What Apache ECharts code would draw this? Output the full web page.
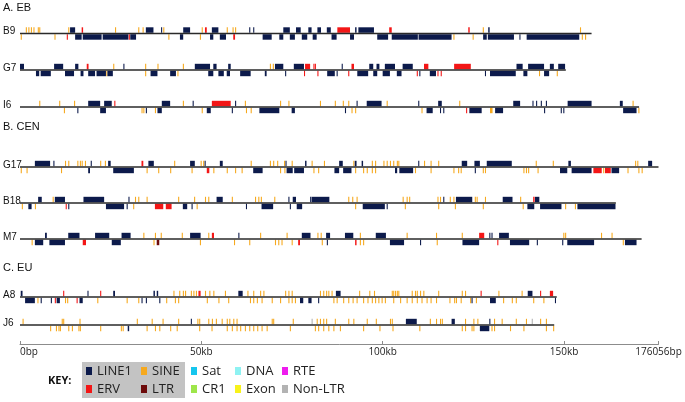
<!DOCTYPE html>
<html><head><meta charset="utf-8">
<script src="https://cdn.jsdelivr.net/npm/echarts@6/dist/echarts.min.js"></script>
<style>html,body{margin:0;padding:0;background:#fff}#c{width:685px;height:402px}</style>
</head><body><div id="c"></div>
<script>
// ---------- DATA (positions in kb; strand 1 = above line, -1 = below) ----------
const trackNames = ['B9','G7','I6','G17','B18','M7','A8','J6'];
const trackLengthsKb = [157.6,150.5,170.7,176.056,164.3,171.4,148.0,147.3];
const sectionNames = ['A. EB','B. CEN','C. EU'];
const tickValuesKb = [0,50,100,150,176.056];
const tickLabels = ['0bp','50kb','100kb','150kb','176056bp'];
const repeatTypes = ['LINE1','SINE','ERV','LTR','Sat','CR1','DNA','Exon','RTE','Non-LTR'];
const typeCodes = {L:'LINE1',S:'SINE',E:'ERV',T:'LTR',N:'Non-LTR'};

const B9 = [[1.6,1.9,1,'S'],[2.3,2.6,1,'S'],[3.0,3.3,1,'S'],[3.7,4.0,1,'S'],[4.9,5.2,1,'S'],[5.3,5.6,1,'S'],
[13.3,13.6,1,'S'],[13.8,15.2,1,'L'],[17.0,17.4,1,'E'],[26.2,26.5,1,'S'],[32.6,32.9,1,'S'],[33.8,34.1,1,'S'],[34.7,36.8,1,'L'],[38.9,39.2,1,'L'],[39.5,39.8,1,'S'],[45.0,46.9,1,'L'],[50.1,50.4,1,'S'],[51.0,51.5,1,'E'],[52.9,54.7,1,'L'],[57.0,57.3,1,'S'],[58.6,58.9,1,'S'],[59.3,59.6,1,'S'],[63.2,63.5,1,'L'],[64.3,64.6,1,'L'],[72.6,74.4,1,'L'],[76.1,77.4,1,'L'],[79.5,80.4,1,'L'],[82.0,83.0,1,'L'],[84.6,85.7,1,'L'],[87.5,91.0,1,'E'],[92.4,92.8,1,'L'],[93.3,97.6,1,'L'],[101.8,102.5,1,'E'],[123.6,124.0,1,'E'],[127.6,127.9,1,'S'],[129.1,129.5,1,'L'],[154.4,154.7,1,'S'],
[0.2,0.5,-1,'S'],[9.5,9.8,-1,'S'],[12.9,13.2,-1,'E'],[15.2,17.0,-1,'L'],[17.3,22.5,-1,'L'],[22.8,29.9,-1,'L'],[30.0,30.3,-1,'E'],[30.4,32.0,-1,'L'],[40.9,41.2,-1,'S'],[44.1,45.0,-1,'L'],[49.6,49.9,-1,'S'],[52.4,53.3,-1,'L'],[55.1,56.8,-1,'L'],[58.8,59.3,-1,'E'],[66.9,69.4,-1,'L'],[71.5,72.6,-1,'L'],[74.4,75.8,-1,'L'],[77.7,79.2,-1,'L'],[80.7,81.8,-1,'L'],[85.9,87.3,-1,'L'],[91.0,92.1,-1,'L'],[98.5,101.5,-1,'L'],[102.5,109.7,-1,'L'],[109.9,119.0,-1,'L'],[119.5,119.8,-1,'S'],[124.8,125.1,-1,'S'],[127.7,128.7,-1,'L'],[129.0,136.2,-1,'L'],[137.7,138.0,-1,'L'],[139.7,154.2,-1,'L'],[154.9,155.2,-1,'S'],[155.8,156.1,-1,'S']];

const G7 = [[0,1.1,1,'L'],[9.4,11.9,1,'L'],[15.2,16.1,1,'L'],[18.4,18.9,1,'E'],[25.7,26.0,1,'S'],[28.5,28.8,1,'L'],[34.5,34.8,1,'S'],[37.9,38.2,1,'S'],[44.9,45.2,1,'S'],[48.2,52.4,1,'L'],[53.3,54.2,1,'L'],[57.4,58.1,1,'L'],[68.9,69.2,1,'S'],[69.7,70.0,1,'S'],[70.3,72.6,1,'L'],[75.5,78.3,1,'L'],[78.6,80.0,1,'E'],[80.9,81.2,1,'E'],[81.3,81.6,1,'E'],[88.7,89.0,1,'L'],[91.4,92.1,1,'E'],[96.3,97.4,1,'L'],[98.3,99.1,1,'L'],[100.6,103.4,1,'L'],[105.5,108.3,1,'L'],[111.4,112.6,1,'E'],[119.7,124.3,1,'E'],[136.9,138.6,1,'L'],[140.1,144.5,1,'L'],[146.1,147.2,1,'L'],[148.4,150.3,1,'L'],
[4.4,5.3,-1,'L'],[5.7,8.5,-1,'L'],[12.4,14.9,-1,'L'],[16.7,17.5,-1,'L'],[18.8,20.7,-1,'L'],[21.1,23.7,-1,'L'],[23.8,24.0,-1,'S'],[24.1,25.6,-1,'L'],[34.5,34.8,-1,'S'],[36.0,37.9,-1,'L'],[41.4,43.0,-1,'L'],[43.4,43.7,-1,'S'],[51.9,53.3,-1,'L'],[54.7,56.2,-1,'L'],[57.0,57.9,-1,'L'],[60.7,63.6,-1,'L'],[67.5,68.0,-1,'L'],[73.1,73.4,-1,'L'],[78.3,78.6,-1,'E'],[82.0,82.3,-1,'E'],[84.7,86.8,-1,'L'],[87.3,87.6,-1,'L'],[90.5,90.8,-1,'E'],[93.0,96.0,-1,'L'],[97.4,98.5,-1,'L'],[100.0,102.0,-1,'L'],[103.9,105.2,-1,'L'],[109.4,109.7,-1,'E'],[110.1,110.4,-1,'L'],[113.0,114.7,-1,'L'],[115.1,115.4,-1,'E'],[116.0,116.3,-1,'E'],[128.2,128.5,-1,'L'],[129.6,136.7,-1,'L'],[138.8,139.9,-1,'L'],[143.1,143.4,-1,'S'],[144.5,145.9,-1,'L'],[148.0,148.3,-1,'S']];

const I6 = [[5.3,5.6,1,'S'],[10.8,11.1,1,'S'],[14.9,15.2,1,'S'],[18.8,22.1,1,'L'],[23.2,25.3,1,'L'],[26.0,26.3,1,'E'],[39.1,41.4,1,'L'],[44.9,45.2,1,'S'],[47.6,47.9,1,'L'],[52.9,58.1,1,'E'],[59.3,59.6,1,'L'],[62.0,62.3,1,'S'],[71.7,72.0,1,'S'],[74.0,74.3,1,'S'],[82.7,83.0,1,'S'],[86.8,87.1,1,'S'],[89.0,89.3,1,'S'],[90.5,90.8,1,'S'],[92.8,93.1,1,'L'],[95.6,99.7,1,'L'],[101.1,101.4,1,'S'],[109.8,110.1,1,'L'],[115.3,116.3,1,'L'],[121.1,121.4,1,'S'],[136.0,137.9,1,'L'],[141.3,141.6,1,'L'],[142.3,142.6,1,'L'],[143.6,143.9,1,'L'],[145.0,145.3,1,'L'],[151.0,157.6,1,'L'],[165.4,166.2,1,'L'],[168.9,169.2,1,'S'],
[12.1,12.4,-1,'S'],[15.8,16.1,-1,'L'],[22.1,23.7,-1,'L'],[33.5,33.8,-1,'S'],[34.0,34.3,-1,'S'],[34.7,35.0,-1,'L'],[37.2,37.5,-1,'S'],[37.9,39.1,-1,'L'],[50.1,50.4,-1,'S'],[51.5,52.6,-1,'L'],[58.4,58.7,-1,'L'],[62.3,62.6,-1,'S'],[63.6,63.9,-1,'S'],[66.0,71.5,-1,'L'],[74.9,75.8,-1,'L'],[89.6,89.9,-1,'L'],[91.4,91.7,-1,'S'],[92.4,92.7,-1,'S'],[110.7,111.0,-1,'S'],[112.1,113.8,-1,'L'],[115.8,116.1,-1,'L'],[116.7,117.0,-1,'L'],[123.0,123.3,-1,'E'],[123.9,127.3,-1,'L'],[129.6,130.3,-1,'S'],[131.0,133.2,-1,'L'],[144.5,144.8,-1,'L'],[149.1,149.4,-1,'L'],[149.8,150.1,-1,'L'],[166.3,170.0,-1,'L'],[170.5,170.8,-1,'S']];

const G17 = [[4.1,8.3,1,'L'],[9.2,9.5,1,'L'],[12.4,12.7,1,'S'],[13.3,13.6,1,'S'],[15.8,16.1,1,'S'],[16.5,16.8,1,'S'],[17.0,17.3,1,'S'],[17.9,18.2,1,'S'],[19.5,19.8,1,'L'],[22.1,22.4,1,'S'],[23.4,23.7,1,'S'],[24.3,25.0,1,'L'],[33.5,34.0,1,'E'],[35.4,36.9,1,'L'],[42.5,42.8,1,'S'],[46.9,48.2,1,'L'],[49.8,50.1,1,'S'],[50.5,50.8,1,'S'],[50.9,51.2,1,'L'],[55.1,55.9,1,'L'],[63.6,63.9,1,'S'],[68.9,69.2,1,'S'],[69.8,70.1,1,'S'],[70.9,71.2,1,'S'],[72.8,73.1,1,'S'],[73.2,73.5,1,'L'],[74.9,75.2,1,'S'],[78.6,79.0,1,'L'],[80.4,80.7,1,'S'],[83.8,84.1,1,'S'],[88.0,89.0,1,'L'],[91.9,92.2,1,'S'],[92.3,92.8,1,'L'],[94.2,94.6,1,'L'],[97.0,97.3,1,'S'],[97.9,98.2,1,'S'],[100.2,100.5,1,'S'],[101.1,101.4,1,'S'],[102.0,102.3,1,'S'],[102.9,103.2,1,'S'],[103.9,104.2,1,'S'],[104.3,104.6,1,'S'],[109.8,110.1,1,'L'],[111.4,111.7,1,'S'],[113.2,113.5,1,'S'],[115.3,115.6,1,'S'],[121.8,123.3,1,'L'],[125.3,126.8,1,'L'],[128.7,135.6,1,'L'],[142.2,142.5,1,'S'],[146.9,147.2,1,'S'],[151.2,151.9,1,'L'],[169.6,169.9,1,'S'],[170.2,170.5,1,'S'],[173.2,174.3,1,'L'],
[0.2,0.5,-1,'S'],[1.8,2.1,-1,'S'],[11.3,11.6,-1,'S'],[18.8,19.3,-1,'L'],[25.7,31.4,-1,'L'],[34.9,35.2,-1,'S'],[38.1,38.4,-1,'S'],[41.4,41.7,-1,'S'],[47.3,47.6,-1,'S'],[51.5,52.2,-1,'E'],[53.3,53.6,-1,'S'],[57.0,57.3,-1,'S'],[59.3,59.6,-1,'S'],[61.1,61.4,-1,'S'],[64.3,66.9,-1,'L'],[71.7,72.0,-1,'S'],[72.9,73.2,-1,'S'],[73.5,75.2,-1,'L'],[75.6,78.3,-1,'L'],[80.9,81.2,-1,'S'],[82.2,82.5,-1,'S'],[86.7,88.0,-1,'L'],[89.1,91.4,-1,'L'],[92.4,92.7,-1,'S'],[94.6,94.9,-1,'S'],[95.6,95.9,-1,'S'],[97.0,97.3,-1,'S'],[97.9,98.2,-1,'S'],[103.4,104.0,-1,'L'],[104.6,108.4,-1,'L'],[108.9,109.2,-1,'S'],[113.2,113.5,-1,'S'],[119.5,119.8,-1,'S'],[120.8,121.1,-1,'S'],[121.5,121.8,-1,'S'],[125.4,125.7,-1,'L'],[127.6,127.9,-1,'S'],[128.2,128.5,-1,'S'],[138.8,139.1,-1,'S'],[139.5,139.8,-1,'S'],[140.1,140.4,-1,'S'],[142.7,143.0,-1,'S'],[148.9,150.9,-1,'L'],[152.1,157.6,-1,'L'],[158.1,160.4,-1,'E'],[160.8,161.1,-1,'S'],[161.3,162.9,-1,'E'],[163.1,165.2,-1,'L'],[167.5,167.8,-1,'S'],[170.5,170.8,-1,'S'],[171.4,171.7,-1,'S']];

const B18 = [[5.0,6.0,1,'L'],[9.0,9.3,1,'S'],[9.6,12.4,1,'L'],[17.5,23.2,1,'L'],[29.9,30.2,1,'L'],[31.7,32.0,1,'S'],[32.6,32.9,1,'S'],[34.9,35.2,1,'S'],[43.6,43.9,1,'S'],[48.0,48.3,1,'S'],[51.0,51.3,1,'S'],[51.9,52.2,1,'S'],[54.2,55.9,1,'L'],[58.4,58.7,1,'S'],[64.8,65.1,1,'S'],[65.7,66.0,1,'S'],[66.4,66.7,1,'S'],[70.1,70.4,1,'S'],[74.0,74.3,1,'L'],[75.2,76.1,1,'L'],[80.0,80.3,1,'L'],[80.4,85.3,1,'L'],[90.5,90.8,1,'S'],[91.6,91.9,1,'S'],[92.8,93.1,1,'S'],[105.5,105.8,1,'S'],[106.6,106.9,1,'S'],[107.3,107.6,1,'S'],[115.1,115.4,1,'S'],[115.8,116.1,1,'S'],[116.7,117.0,1,'L'],[118.5,118.8,1,'S'],[119.5,119.8,1,'S'],[120.2,124.7,1,'L'],[125.4,125.7,1,'S'],[125.9,126.2,1,'S'],[128.2,128.5,1,'S'],[133.1,135.8,1,'L'],[137.9,138.2,1,'S'],[141.5,141.9,1,'E'],[142.0,143.2,1,'L'],
[0.5,0.8,-1,'S'],[2.3,3.2,-1,'L'],[4.1,4.4,-1,'S'],[12.6,12.9,-1,'E'],[13.3,13.6,-1,'L'],[23.7,28.7,-1,'L'],[29.4,29.7,-1,'L'],[31.2,31.5,-1,'S'],[37.2,39.5,-1,'E'],[40.2,41.8,-1,'E'],[44.9,46.1,-1,'L'],[47.3,47.6,-1,'L'],[48.7,49.0,-1,'S'],[62.3,62.6,-1,'L'],[66.6,69.8,-1,'L'],[74.4,74.7,-1,'L'],[76.3,77.8,-1,'L'],[92.4,92.7,-1,'S'],[94.5,100.6,-1,'L'],[101.1,101.4,-1,'L'],[106.1,106.4,-1,'S'],[115.3,115.6,-1,'S'],[119.9,120.2,-1,'S'],[127.6,127.9,-1,'S'],[138.6,138.9,-1,'S'],[139.9,141.8,-1,'L'],[143.4,149.3,-1,'L'],[150.3,150.6,-1,'S'],[153.0,153.3,-1,'S'],[153.7,164.2,-1,'L']];

const M7 = [[6.9,7.4,1,'L'],[13.3,16.4,1,'L'],[20.7,24.6,1,'L'],[28.0,30.5,1,'L'],[34.0,34.3,1,'S'],[37.2,37.5,1,'S'],[38.8,39.1,1,'S'],[44.6,44.9,1,'S'],[46.9,49.8,1,'L'],[51.9,52.2,1,'S'],[52.9,53.5,1,'E'],[60.2,60.5,1,'L'],[66.2,66.5,1,'S'],[73.5,73.8,1,'S'],[77.7,80.1,1,'L'],[82.0,82.3,1,'S'],[82.9,83.2,1,'S'],[84.4,85.5,1,'L'],[89.6,91.9,1,'L'],[93.7,94.0,1,'S'],[98.1,100.9,1,'L'],[106.6,106.9,1,'S'],[114.7,115.0,1,'S'],[121.8,122.1,1,'S'],[126.6,128.0,1,'E'],[129.4,129.7,1,'L'],[130.0,130.3,1,'L'],[132.1,134.8,1,'L'],[149.8,150.1,1,'S'],[150.3,150.6,1,'S'],[160.2,160.5,1,'S'],[163.1,163.4,1,'S'],
[3.2,3.5,-1,'S'],[4.1,6.4,-1,'L'],[8.1,12.4,-1,'L'],[17.3,18.2,-1,'E'],[25.3,27.8,-1,'L'],[36.8,37.1,-1,'S'],[37.7,38.4,-1,'T'],[49.6,49.9,-1,'S'],[59.0,59.3,-1,'S'],[63.2,63.5,-1,'S'],[70.3,70.6,-1,'S'],[71.2,71.5,-1,'S'],[72.1,72.4,-1,'S'],[74.9,75.2,-1,'S'],[76.7,77.2,-1,'E'],[83.2,83.5,-1,'S'],[84.6,84.9,-1,'L'],[92.4,92.8,-1,'E'],[93.7,94.0,-1,'S'],[94.6,94.9,-1,'S'],[102.0,105.9,-1,'L'],[110.3,110.6,-1,'L'],[114.9,115.2,-1,'S'],[122.0,126.6,-1,'L'],[131.6,131.9,-1,'E'],[135.1,140.4,-1,'L'],[142.5,142.8,-1,'L'],[149.5,149.8,-1,'L'],[150.9,158.3,-1,'L'],[166.2,166.5,-1,'S'],[166.8,170.0,-1,'L']];

const A8 = [[0.2,0.7,1,'L'],[11.9,12.2,1,'E'],[18.6,18.9,1,'L'],[22.1,22.4,1,'E'],[25.7,26.2,1,'L'],[36.8,37.2,1,'L'],[37.7,38.1,1,'L'],[42.3,42.6,1,'S'],[43.9,44.2,1,'S'],[44.9,45.2,1,'S'],[45.5,45.8,1,'S'],[47.1,47.4,1,'S'],[47.8,48.1,1,'S'],[48.5,48.8,1,'S'],[49.2,49.8,1,'E'],[51.0,51.3,1,'S'],[52.2,52.5,1,'S'],[53.3,53.6,1,'S'],[56.5,56.8,1,'S'],[60.2,61.4,1,'L'],[62.7,63.0,1,'S'],[64.3,64.6,1,'S'],[66.2,66.5,1,'S'],[67.1,67.4,1,'S'],[73.1,73.4,1,'S'],[74.0,74.3,1,'S'],[74.9,75.2,1,'S'],[82.7,83.0,1,'S'],[83.6,83.9,1,'S'],[84.4,84.7,1,'S'],[85.0,85.3,1,'S'],[85.9,86.2,1,'S'],[87.1,88.4,1,'L'],[93.5,93.8,1,'S'],[96.3,96.6,1,'S'],[97.6,97.9,1,'S'],[102.5,102.8,1,'S'],[102.9,103.2,1,'S'],[103.4,103.7,1,'S'],[103.9,104.2,1,'S'],[104.3,104.6,1,'S'],[108.0,108.3,1,'S'],[108.9,109.2,1,'S'],[109.4,109.7,1,'S'],[110.3,110.6,1,'S'],[111.2,111.5,1,'S'],[115.3,115.6,1,'S'],[121.8,122.1,1,'S'],[122.7,123.0,1,'S'],[127.0,127.3,1,'E'],[131.9,132.2,1,'S'],[138.3,138.6,1,'S'],[140.0,141.3,1,'L'],[143.4,143.7,1,'E'],[146.1,147.0,1,'E'],
[1.4,4.1,-1,'L'],[4.8,5.1,-1,'S'],[5.7,6.0,-1,'L'],[8.5,8.8,-1,'L'],[9.6,9.9,-1,'E'],[10.1,11.0,-1,'L'],[12.4,12.7,-1,'S'],[13.0,13.3,-1,'S'],[15.6,15.9,-1,'E'],[16.4,17.3,-1,'L'],[21.3,21.6,-1,'S'],[29.4,29.7,-1,'S'],[32.6,32.9,-1,'S'],[33.5,33.8,-1,'L'],[34.7,35.0,-1,'L'],[38.4,38.7,-1,'L'],[40.3,40.6,-1,'S'],[42.7,43.0,-1,'S'],[43.6,43.9,-1,'S'],[51.5,51.8,-1,'S'],[54.7,55.0,-1,'S'],[57.4,57.7,-1,'S'],[63.4,63.7,-1,'S'],[64.3,64.6,-1,'S'],[65.3,65.6,-1,'S'],[66.6,66.9,-1,'S'],[69.4,69.7,-1,'S'],[71.7,72.0,-1,'S'],[74.0,74.3,-1,'S'],[74.9,75.2,-1,'S'],[75.8,76.1,-1,'S'],[77.2,78.1,-1,'L'],[79.5,80.4,-1,'L'],[82.2,82.5,-1,'L'],[86.4,86.7,-1,'S'],[87.3,87.6,-1,'S'],[89.1,89.4,-1,'S'],[90.5,90.8,-1,'S'],[91.7,92.0,-1,'S'],[92.8,93.1,-1,'S'],[94.6,94.9,-1,'S'],[95.8,96.1,-1,'S'],[97.0,97.3,-1,'S'],[97.9,98.2,-1,'S'],[98.8,99.1,-1,'S'],[99.7,100.0,-1,'S'],[100.6,100.9,-1,'S'],[102.9,103.2,-1,'S'],[104.8,105.1,-1,'S'],[106.6,106.9,-1,'S'],[108.0,108.3,-1,'S'],[109.4,109.7,-1,'S'],[110.7,111.0,-1,'S'],[112.1,112.4,-1,'S'],[113.2,113.5,-1,'S'],[114.7,115.0,-1,'S'],[118.4,118.7,-1,'S'],[119.7,120.0,-1,'S'],[120.2,120.5,-1,'S'],[121.5,121.8,-1,'S'],[124.1,124.4,-1,'S'],[124.5,124.8,-1,'L'],[125.7,126.0,-1,'S'],[129.6,131.2,-1,'L'],[133.2,133.5,-1,'S'],[135.6,135.9,-1,'S'],[136.7,137.0,-1,'S'],[141.5,141.8,-1,'S'],[144.3,144.6,-1,'S'],[147.5,147.8,-1,'L']];

const J6 = [[0.7,1.0,1,'S'],[11.5,11.8,1,'S'],[11.9,12.2,1,'S'],[16.4,16.7,1,'S'],[32.2,32.5,1,'S'],[36.3,36.6,1,'S'],[39.3,39.6,1,'S'],[43.6,43.9,1,'S'],[47.1,47.4,1,'L'],[48.9,49.2,1,'S'],[49.4,49.7,1,'S'],[51.9,52.2,1,'S'],[52.9,53.2,1,'S'],[54.0,54.3,1,'S'],[55.6,55.9,1,'S'],[57.0,57.3,1,'S'],[57.7,58.0,1,'S'],[58.8,59.1,1,'S'],[59.7,60.0,1,'S'],[69.4,69.7,1,'S'],[69.8,70.1,1,'S'],[75.2,75.5,1,'S'],[80.4,80.7,1,'N'],[81.8,82.1,1,'S'],[82.7,83.0,1,'S'],[83.6,83.9,1,'S'],[84.4,84.7,1,'S'],[86.8,87.1,1,'S'],[90.5,90.8,1,'S'],[91.9,92.2,1,'S'],[95.6,95.9,1,'S'],[98.1,98.4,1,'S'],[102.0,102.3,1,'S'],[102.5,102.8,1,'S'],[106.4,109.4,1,'L'],[113.0,113.3,1,'S'],[114.7,115.0,1,'S'],[115.8,116.1,1,'S'],[116.3,116.6,1,'S'],[119.0,119.9,1,'L'],[122.7,123.0,1,'S'],[125.0,125.3,1,'S'],[126.1,126.4,1,'S'],[129.4,129.7,1,'L'],[130.7,131.0,1,'S'],[132.8,133.1,1,'S'],[136.7,137.0,1,'S'],[139.5,139.8,1,'S'],[141.1,141.4,1,'N'],[143.4,143.7,1,'S'],[145.0,145.3,1,'S'],
[8.3,8.6,-1,'S'],[9.9,10.2,-1,'S'],[10.6,10.9,-1,'S'],[11.0,11.3,-1,'S'],[13.3,13.6,-1,'S'],[14.3,14.6,-1,'S'],[16.1,16.4,-1,'S'],[16.5,16.8,-1,'S'],[22.1,22.4,-1,'S'],[27.8,28.1,-1,'S'],[28.3,28.6,-1,'S'],[29.7,30.1,-1,'L'],[34.9,35.2,-1,'S'],[37.2,37.5,-1,'S'],[38.4,38.7,-1,'S'],[41.4,41.7,-1,'S'],[43.2,43.5,-1,'S'],[49.4,49.7,-1,'S'],[52.8,53.1,-1,'S'],[57.0,57.3,-1,'S'],[58.4,58.7,-1,'S'],[59.7,60.0,-1,'S'],[60.7,61.0,-1,'S'],[62.0,62.3,-1,'S'],[63.2,63.5,-1,'S'],[64.3,64.6,-1,'S'],[65.4,65.7,-1,'S'],[66.6,66.9,-1,'S'],[68.0,68.3,-1,'S'],[74.4,74.7,-1,'S'],[81.3,81.6,-1,'S'],[82.2,82.5,-1,'S'],[83.6,83.9,-1,'S'],[85.0,85.3,-1,'S'],[86.4,86.7,-1,'S'],[88.2,88.5,-1,'S'],[94.6,94.9,-1,'S'],[99.1,99.4,-1,'S'],[102.7,103.0,-1,'S'],[110.1,110.4,-1,'S'],[121.8,122.1,-1,'S'],[122.7,123.0,-1,'S'],[124.5,124.8,-1,'S'],[125.0,125.3,-1,'S'],[126.8,129.4,-1,'L'],[130.0,130.3,-1,'S'],[130.7,131.0,-1,'S'],[135.1,135.4,-1,'S'],[138.8,139.1,-1,'S'],[145.0,145.3,-1,'S'],[147.0,147.3,-1,'S']];

// ---------- LAYOUT / STYLE ----------
const trackRowY = [33.5,70,107,167,203,239,297,325];   // rows on the (pixel-like) y scale
const sectionRowY = [8,127,268];
const typeColors = {'LINE1':'#0c1a4b','SINE':'#f6a91e','ERV':'#f31616','LTR':'#6d0a0a','Sat':'#16c6ee','CR1':'#9ee64a','DNA':'#8ef2f2','Exon':'#f8f21a','RTE':'#ee1cee','Non-LTR':'#b3b3b3'};

const tracks = [B9,G7,I6,G17,B18,M7,A8,J6];
const byType = {};
repeatTypes.forEach(t => byType[t] = []);
tracks.forEach((arr,i) => arr.forEach(f => byType[typeCodes[f[3]]].push([f[0],f[1],f[2],trackRowY[i]])));

function renderFeature(params, api){
  const s = api.value(0), e = api.value(1), strand = api.value(2), row = api.value(3);
  const a = api.coord([s,row]), b = api.coord([e,row]);
  const w = Math.max(b[0]-a[0], 1);
  const h = 5.5;
  const y = strand > 0 ? a[1]-0.7-h : a[1]+0.7;
  return {type:'rect', shape:{x:a[0], y:y, width:w, height:h}, style:{fill: api.visual('color')}};
}
function renderTrack(params, api){
  const a = api.coord([api.value(0), api.value(2)]), b = api.coord([api.value(1), api.value(2)]);
  return {type:'line', shape:{x1:a[0], y1:a[1], x2:b[0], y2:b[1]}, style:{stroke:'#2a2a2a', lineWidth:1.5}};
}

const yLabelVals = [], yLabelText = {};
sectionNames.forEach((n,i)=>{ yLabelVals.push(sectionRowY[i]); yLabelText[String(sectionRowY[i])] = '{h|'+n+'}'; });
trackNames.forEach((n,i)=>{ const v = trackRowY[i]-2; yLabelVals.push(v); yLabelText[String(v)] = '{t|'+n+'}'; });

const series = repeatTypes.map(t => ({
  type:'custom', name:t, renderItem:renderFeature, data:byType[t],
  encode:{x:[0,1], y:3}, itemStyle:{color:typeColors[t]}, silent:true, animation:false,
  z: t==='SINE' ? 2 : 3
}));
series.push({type:'custom', name:'track', renderItem:renderTrack,
  data: trackLengthsKb.map((len,i)=>[0,len,trackRowY[i]]), encode:{x:[0,1], y:2}, z:5, silent:true, animation:false});

const fontUI = '"Open Sans", "Noto Sans", sans-serif';
const chart = echarts.init(document.getElementById('c'), null, {renderer:'canvas'});
chart.setOption({
  animation:false,
  backgroundColor:'#fff',
  grid:{left:20, right:26.5, top:0, bottom:58, containLabel:false, outerBoundsMode:'none'},
  xAxis:{type:'value', min:0, max:tickValuesKb[tickValuesKb.length-1], position:'bottom',
    axisLine:{show:true, onZero:false, lineStyle:{color:'#8c8c8c', width:1}},
    axisTick:{show:true, inside:true, length:3, customValues:tickValuesKb, lineStyle:{color:'#8c8c8c'}},
    axisLabel:{customValues:tickValuesKb, formatter:(v)=>tickLabels[tickValuesKb.indexOf(v)] || '',
      fontFamily:fontUI, fontSize:10, color:'#222', margin:3, alignMinLabel:'left'},
    splitLine:{show:false}},
  yAxis:{type:'value', min:0, max:344, inverse:true,
    axisLine:{show:false}, axisTick:{show:false}, splitLine:{show:false},
    axisLabel:{customValues:yLabelVals, align:'left', margin:17,
      formatter:(v)=>yLabelText[String(v)] || '',
      rich:{h:{fontFamily:'"Liberation Sans", Arial, sans-serif', fontSize:11, color:'#111'},
            t:{fontFamily:'"Liberation Sans", Arial, sans-serif', fontSize:10, color:'#111'}}}},
  legend:[
    {data:[{name:'LINE1',textStyle:{width:40}},{name:'SINE',textStyle:{width:29}},{name:'ERV',textStyle:{width:40}},{name:'LTR',textStyle:{width:29}}],
     left:82, top:362, width:100, orient:'horizontal', padding:[2,4,2,4], backgroundColor:'#c3c3c3',
     itemWidth:6, itemHeight:8, itemGap:4, icon:'rect', selectedMode:false,
     textStyle:{fontFamily:fontUI, fontSize:13, color:'#222', lineHeight:14}},
    {data:[{name:'Sat',textStyle:{width:29}},{name:'DNA',textStyle:{width:32}},{name:'RTE',textStyle:{width:52}},{name:'CR1',textStyle:{width:29}},{name:'Exon',textStyle:{width:32}},{name:'Non-LTR',textStyle:{width:52}}],
     left:191, top:364, width:160, orient:'horizontal', padding:0,
     itemWidth:6, itemHeight:8, itemGap:4, icon:'rect', selectedMode:false,
     textStyle:{fontFamily:fontUI, fontSize:13, color:'#222', lineHeight:14}}
  ],
  graphic:[{type:'text', left:48, top:375, style:{text:'KEY:', font:'bold 11px "Open Sans", sans-serif', fill:'#111'}}],
  series:series
});
</script></body></html>
